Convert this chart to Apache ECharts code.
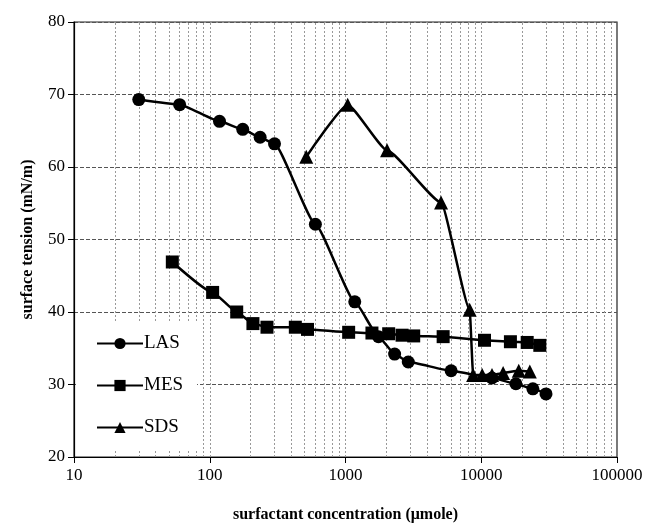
<!DOCTYPE html>
<html>
<head>
<meta charset="utf-8">
<script src="https://cdn.jsdelivr.net/npm/echarts@6/dist/echarts.min.js"></script>
<style>html,body{margin:0;padding:0;background:#fff;}#c{width:653px;height:525px;}</style>
</head>
<body>
<div id="c"></div>
<script>
const lasX = [30, 60, 118, 175, 235, 300, 600, 1170, 1750, 2300, 2900, 6000, 12000, 18000, 24000, 30000];
const lasY = [69.3, 68.6, 66.3, 65.2, 64.1, 63.2, 52.1, 41.4, 36.6, 34.2, 33.1, 31.9, 30.9, 30.1, 29.4, 28.7];
const mesX = [53, 105, 158, 208, 264, 427, 525, 1055, 1566, 2080, 2610, 3180, 5240, 10570, 16400, 21800, 27000];
const mesY = [46.9, 42.7, 40.0, 38.4, 37.9, 37.9, 37.6, 37.2, 37.1, 37.0, 36.8, 36.7, 36.6, 36.1, 35.9, 35.8, 35.4];
const sdsX = [514, 1038, 2023, 5060, 8220, 8710, 10160, 12000, 14500, 18900, 22800];
const sdsY = [61.4, 68.6, 62.3, 55.1, 40.3, 31.3, 31.3, 31.3, 31.6, 31.9, 31.8];
const xTickLabels = ['10', '100', '1000', '10000', '100000'];
const yMin = 20, yMax = 80, yStep = 10;

// minor log grid positions (2..9 in each decade)
const minorLines = [];
for (let d = 10; d < 100000; d *= 10) {
  for (let m = 2; m <= 9; m++) minorLines.push({ xAxis: d * m });
}
[100, 1000, 10000].forEach(v => minorLines.push({ xAxis: v }));

const zip = (xs, ys) => xs.map((x, i) => [x, ys[i]]);
const serif = '"Liberation Serif", "DejaVu Serif", serif';

const chart = echarts.init(document.getElementById('c'), null, { renderer: 'canvas' });
const lineCommon = {
  type: 'line',
  smooth: 0.15,
  smoothMonotone: 'x',
  lineStyle: { color: '#000', width: 2.5 },
  itemStyle: { color: '#000' },
  emphasis: { disabled: true },
  z: 5
};
chart.setOption({
  animation: false,
  backgroundColor: '#fff',
  grid: { left: 74, right: 36, top: 22, bottom: 68, outerBoundsMode: 'none', containLabel: false,
    show: true, borderColor: '#222', borderWidth: 1.2, backgroundColor: 'transparent' },
  xAxis: {
    type: 'log', logBase: 10, min: 10, max: 100000,
    name: 'surfactant concentration (μmole)',
    nameLocation: 'middle', nameGap: 50,
    nameTextStyle: { fontFamily: serif, fontWeight: 'bold', fontSize: 16, color: '#000' },
    axisLine: { lineStyle: { color: '#000', width: 1.2 } },
    axisTick: { show: true, inside: false, length: 6, lineStyle: { color: '#000' } },
    axisLabel: { fontFamily: serif, fontSize: 17, color: '#000', margin: 10,
      formatter: v => { const s = String(Math.round(v)); return xTickLabels.includes(s) ? s : ''; } },
    splitLine: { show: false }
  },
  yAxis: {
    type: 'value', min: yMin, max: yMax, interval: yStep,
    name: 'surface tension (mN/m)',
    nameLocation: 'middle', nameGap: 38,
    nameTextStyle: { fontFamily: serif, fontWeight: 'bold', fontSize: 16, color: '#000' },
    axisLine: { show: true, lineStyle: { color: '#000', width: 1.2 } },
    axisTick: { show: true, inside: false, length: 6, lineStyle: { color: '#000' } },
    axisLabel: { fontFamily: serif, fontSize: 17, color: '#000', margin: 9 },
    splitLine: { show: true, lineStyle: { color: '#555', type: [4, 2], width: 1.2 } }
  },
  legend: {
    orient: 'vertical', left: 76, top: 322,
    padding: [12, 14, 14, 20],
    backgroundColor: '#fff',
    itemWidth: 46, itemHeight: 14, itemGap: 23,
    textStyle: { fontFamily: serif, fontSize: 19, color: '#000', padding: [0, 0, 0, -4] },
    data: ['LAS', 'MES', 'SDS'],
    z: 10
  },
  series: [
    { name: 'grid', type: 'line', data: [], silent: true, z: 1,
      markLine: { silent: true, symbol: 'none', label: { show: false },
        lineStyle: { color: '#999', type: [2, 2], width: 1 }, data: minorLines, animation: false } },
    Object.assign({ name: 'LAS', data: zip(lasX, lasY), symbol: 'circle', symbolSize: 13 }, lineCommon),
    Object.assign({ name: 'MES', data: zip(mesX, mesY), symbol: 'rect', symbolSize: 13 }, lineCommon),
    Object.assign({ name: 'SDS', data: zip(sdsX, sdsY), symbol: 'triangle', symbolSize: 14 }, lineCommon)
  ]
});
</script>
</body>
</html>
